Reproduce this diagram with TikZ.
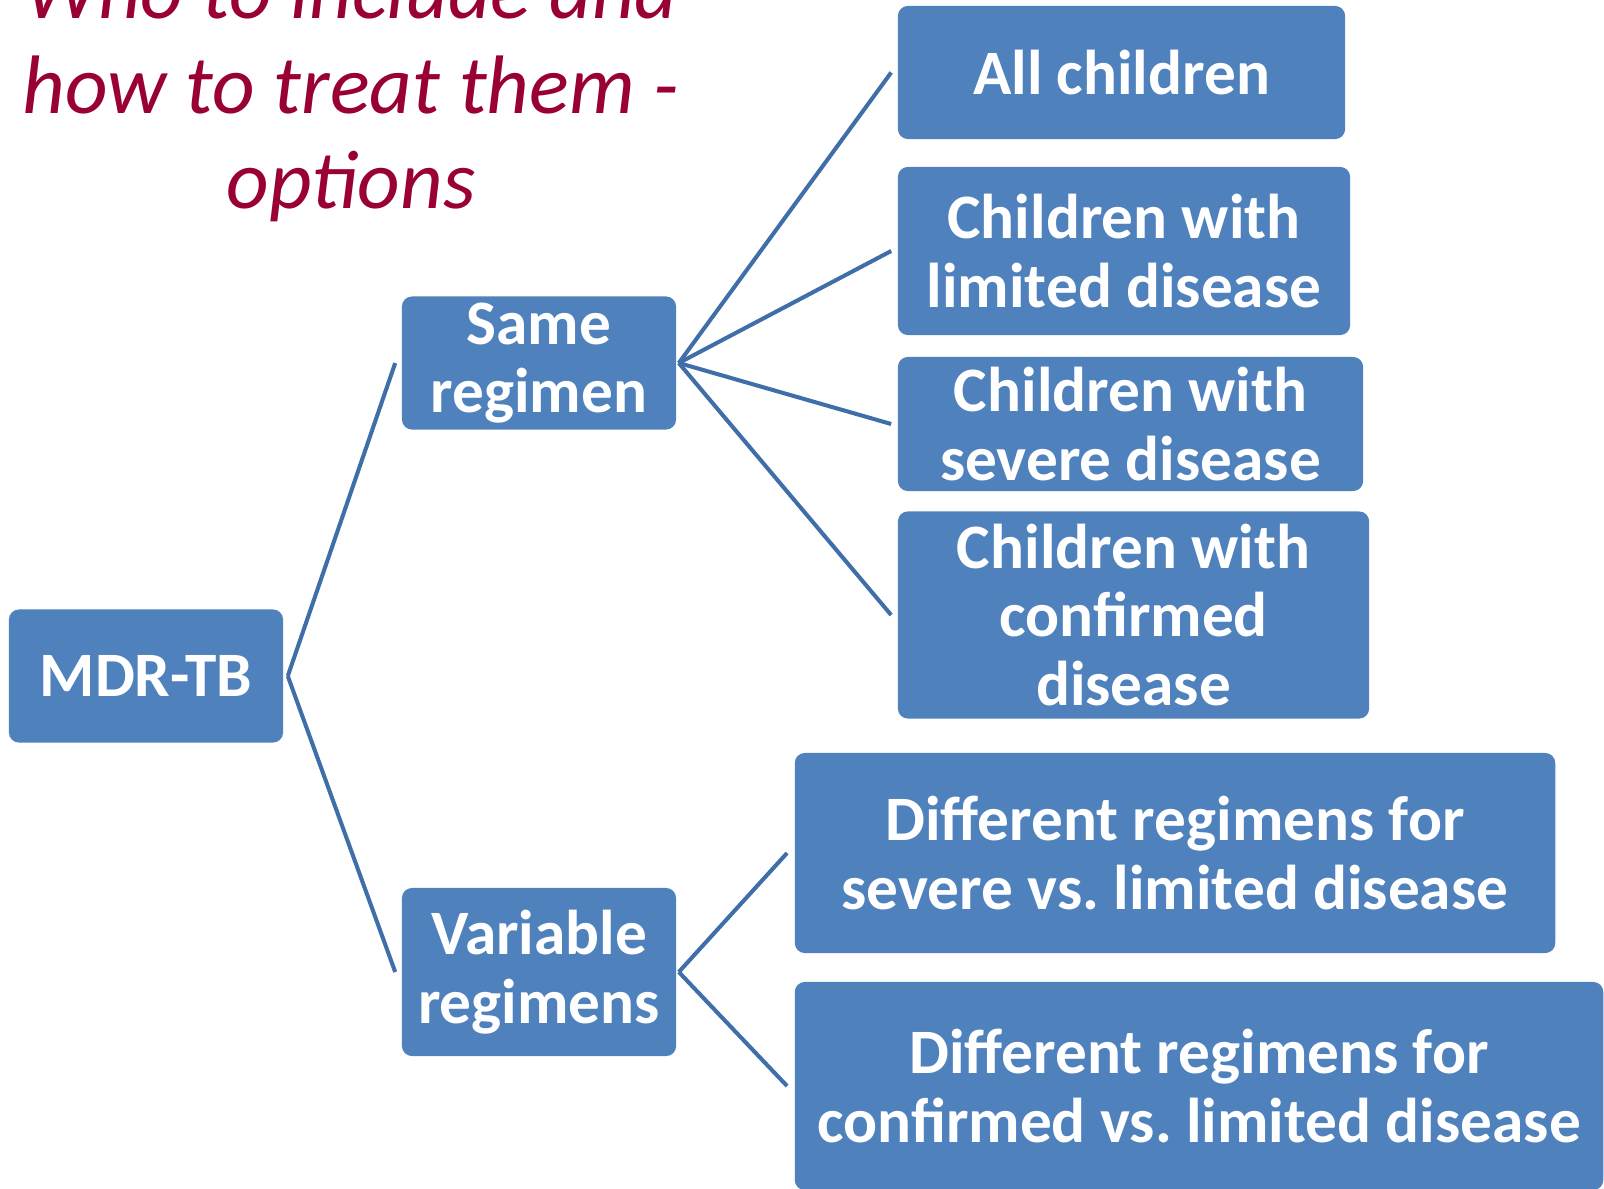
\documentclass[tikz,border=0pt]{standalone}
\usepackage{fontspec}
\setmainfont{Carlito}
\usepackage{xcolor}
\usetikzlibrary{positioning}

\definecolor{boxblue}{HTML}{4F81BD}
\definecolor{lineblue}{HTML}{3F6EA8}
\definecolor{titlered}{HTML}{990033}

\tikzset{
    optbox/.style={
        draw=none,
        fill=boxblue,
        rounded corners=0.1cm,
        text=white,
        align=center,
        inner sep=0pt,
        font=\fontsize{18}{19.5}\selectfont\bfseries},
    branch/.style={
        draw=lineblue,
        line width=1.15pt}
}

\begin{document}
\frenchspacing
\begin{tikzpicture}[x=0.01cm,y=-0.01cm]
    \useasboundingbox (0,0) rectangle (1604,1188);
    \clip (0,0) rectangle (1604,1188);

    % title
    \node[text=titlered,
        align=center,
        font=\fontsize{23.6}{26.9}\selectfont\itshape,
        anchor=base]
        (title) at (351,208) {Who to include and\\how to treat them -\\options};

    % tree
    \node[optbox,
        minimum height=1.33cm,
        minimum width=2.74cm]
        (mdr) at (146,676) {MDR-TB};

    \node[optbox,
        minimum height=1.33cm,
        minimum width=2.74cm]
        (same) at (539,363) {Same\\regimen};

    \node[optbox,
        minimum height=1.68cm,
        minimum width=2.74cm]
        (variable) at (539,972) {Variable\\regimens};

    \node[optbox,
        minimum height=1.33cm,
        minimum width=4.47cm]
        (allchildren) at (1121.5,72.5) {All children};

    \node[optbox,
        minimum height=1.68cm,
        minimum width=4.52cm]
        (limited) at (1124,251) {Children with\\limited disease};

    \node[optbox,
        minimum height=1.34cm,
        minimum width=4.65cm]
        (severe) at (1130.5,424) {Children with\\severe disease};

    \node[optbox,
        minimum height=2.07cm,
        minimum width=4.71cm]
        (confirmed) at (1133.5,615) {Children with\\confirmed\\disease};

    \node[optbox,
        minimum height=2.0cm,
        minimum width=7.6cm]
        (diffsevere) at (1175,853) {Different regimens for\\severe vs. limited disease};

    \node[optbox,
        minimum height=2.08cm,
        minimum width=8.08cm]
        (diffconfirmed) at (1199,1086) {Different regimens for\\confirmed vs. limited disease};

    \draw[branch] ([xshift=0.04cm]mdr.east) -- ([xshift=-0.06cm]same.west);
    \draw[branch] ([xshift=0.04cm]mdr.east) -- ([xshift=-0.06cm]variable.west);

    \draw[branch] ([xshift=0.02cm]same.east) -- ([xshift=-0.06cm]allchildren.west);
    \draw[branch] ([xshift=0.02cm]same.east) -- ([xshift=-0.06cm]limited.west);
    \draw[branch] ([xshift=0.02cm]same.east) -- ([xshift=-0.06cm]severe.west);
    \draw[branch] ([xshift=0.02cm]same.east) -- ([xshift=-0.06cm]confirmed.west);

    \draw[branch] ([xshift=0.02cm]variable.east) -- ([xshift=-0.07cm]diffsevere.west);
    \draw[branch] ([xshift=0.02cm]variable.east) -- ([xshift=-0.07cm]diffconfirmed.west);

\end{tikzpicture}
\end{document}
